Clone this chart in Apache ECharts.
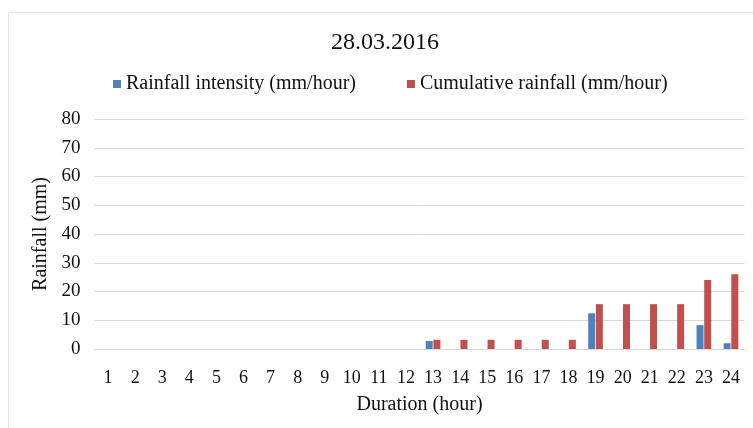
<!DOCTYPE html>
<html>
<head>
<meta charset="utf-8">
<script src="https://cdn.jsdelivr.net/npm/echarts@6/dist/echarts.min.js"></script>
<style>
  html, body { margin: 0; padding: 0; background: #fff; }
  #chart { width: 753px; height: 428px; }
</style>
</head>
<body>
<div id="chart"></div>
<script>
const hours = ['1', '2', '3', '4', '5', '6', '7', '8', '9', '10', '11', '12',
  '13', '14', '15', '16', '17', '18', '19', '20', '21', '22', '23', '24']
const intensity = [0, 0, 0, 0, 0, 0, 0, 0, 0, 0, 0, 0,
  2.8, 0, 0, 0, 0, 0, 12.4, 0, 0, 0, 8.3, 2.0]
const cumulative = [0, 0, 0, 0, 0, 0, 0, 0, 0, 0, 0, 0,
  3.2, 3.2, 3.2, 3.2, 3.2, 3.2, 15.6, 15.6, 15.6, 15.6, 24.0, 26.0]
const yTicks = [0, 80, 10] // min, max, interval

const font = '"Liberation Serif", "Times New Roman", serif'
const chart = echarts.init(document.getElementById('chart'))

chart.setOption({
  backgroundColor: '#fff',
  animation: false,
  graphic: [{
    type: 'rect',
    shape: { x: 8.5, y: 12.5, width: 760, height: 430 },
    style: { fill: 'none', stroke: '#e4e4e4', lineWidth: 1 },
    silent: true
  }],
  title: {
    text: '28.03.2016',
    left: 326,
    top: 26,
    textStyle: { fontFamily: font, fontSize: 24, fontWeight: 'normal', color: '#111' }
  },
  legend: {
    top: 69,
    left: 108,
    itemWidth: 8,
    itemHeight: 8,
    itemGap: 51,
    icon: 'rect',
    textStyle: { fontFamily: font, fontSize: 20, color: '#111' },
    data: ['Rainfall intensity (mm/hour)', 'Cumulative rainfall (mm/hour)']
  },
  grid: { left: 94.5, right: 8.5, top: 119, bottom: 79 },
  xAxis: {
    type: 'category',
    data: hours,
    name: 'Duration (hour)',
    nameLocation: 'middle',
    nameGap: 46,
    nameTextStyle: { fontFamily: font, fontSize: 20, color: '#111' },
    axisLine: { show: true, lineStyle: { color: '#d9d9d9' } },
    axisTick: { show: false },
    axisLabel: { fontFamily: font, fontSize: 18, color: '#111', margin: 20 }
  },
  yAxis: {
    type: 'value',
    min: yTicks[0],
    max: yTicks[1],
    interval: yTicks[2],
    name: 'Rainfall (mm)',
    nameLocation: 'middle',
    nameGap: 42,
    nameTextStyle: { fontFamily: font, fontSize: 20, color: '#111' },
    axisLine: { show: false },
    axisTick: { show: false },
    splitLine: { lineStyle: { color: '#d9d9d9' } },
    axisLabel: { fontFamily: font, fontSize: 19, color: '#111', margin: 14 }
  },
  series: [
    {
      name: 'Rainfall intensity (mm/hour)',
      type: 'bar',
      data: intensity,
      barWidth: 7,
      barGap: '10%',
      itemStyle: { color: '#4F81BD' }
    },
    {
      name: 'Cumulative rainfall (mm/hour)',
      type: 'bar',
      data: cumulative,
      barWidth: 7,
      barGap: '10%',
      itemStyle: { color: '#C0504D' }
    }
  ]
})
</script>
</body>
</html>
